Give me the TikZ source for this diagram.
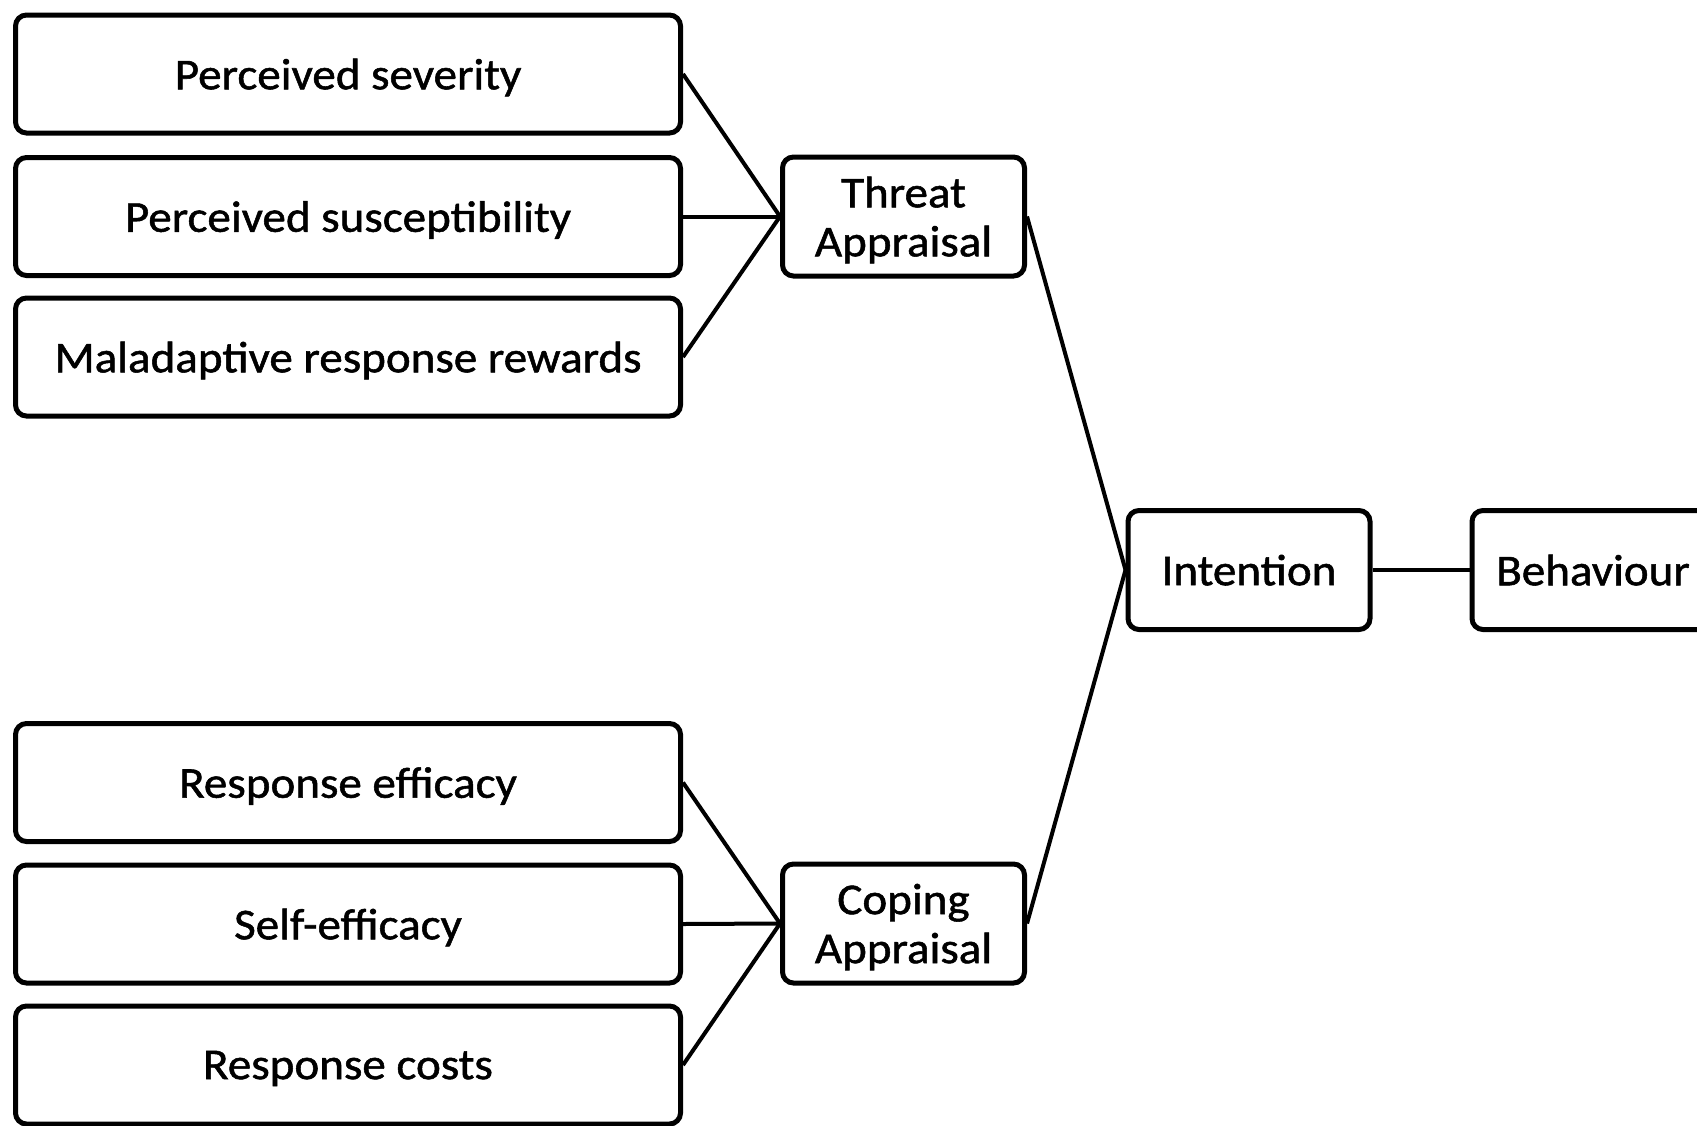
\documentclass[tikz,border=0pt]{standalone}
\usepackage{fontspec}
\setmainfont{Carlito}[FakeStretch=1.07,FakeBold=1.2]
\begin{document}
\begin{tikzpicture}[x=1pt,y=-1pt,
  box/.style={draw=black, line width=5pt, rounded corners=11pt, fill=white,
    inner sep=0pt, text depth=0pt, font=\fontsize{44}{49}\selectfont, align=center},
  wide/.style={box, minimum width=665pt, minimum height=118pt},
  small/.style={box, minimum width=242pt, minimum height=119pt},
  link/.style={draw=black, line width=4pt}]
\useasboundingbox (0,0) rectangle (1697,1125);
\clip (0,0) rectangle (1697,1125);
\fill[white] (0,0) rectangle (1697,1125);
% left boxes (threat)
\node[wide] (ps) at (348,74) {Perceived severity};
\node[wide] (pu) at (348,216.5) {Perceived susceptibility};
\node[wide] (mr) at (348,357) {Maladaptive response rewards};
% left boxes (coping)
\node[wide] (re) at (348,782.5) {Response efficacy};
\node[wide] (se) at (348,924) {Self-efficacy};
\node[wide] (rc) at (348,1065) {Response costs};
% appraisals
\node[small] (ta) at (903.5,216.5) {Threat\\Appraisal};
\node[small] (ca) at (903.5,923.5) {Coping\\Appraisal};
% intention and behaviour
\node[small] (in) at (1249,570) {Intention};
\node[small] (be) at (1593,570) {Behaviour};
% connectors
\draw[link] (ps.east) -- (ta.west);
\draw[link] (pu.east) -- (ta.west);
\draw[link] (mr.east) -- (ta.west);
\draw[link] (re.east) -- (ca.west);
\draw[link] (se.east) -- (ca.west);
\draw[link] (rc.east) -- (ca.west);
\draw[link] (ta.east) -- (in.west);
\draw[link] (ca.east) -- (in.west);
\draw[link] (in.east) -- (be.west);
\end{tikzpicture}
\end{document}
